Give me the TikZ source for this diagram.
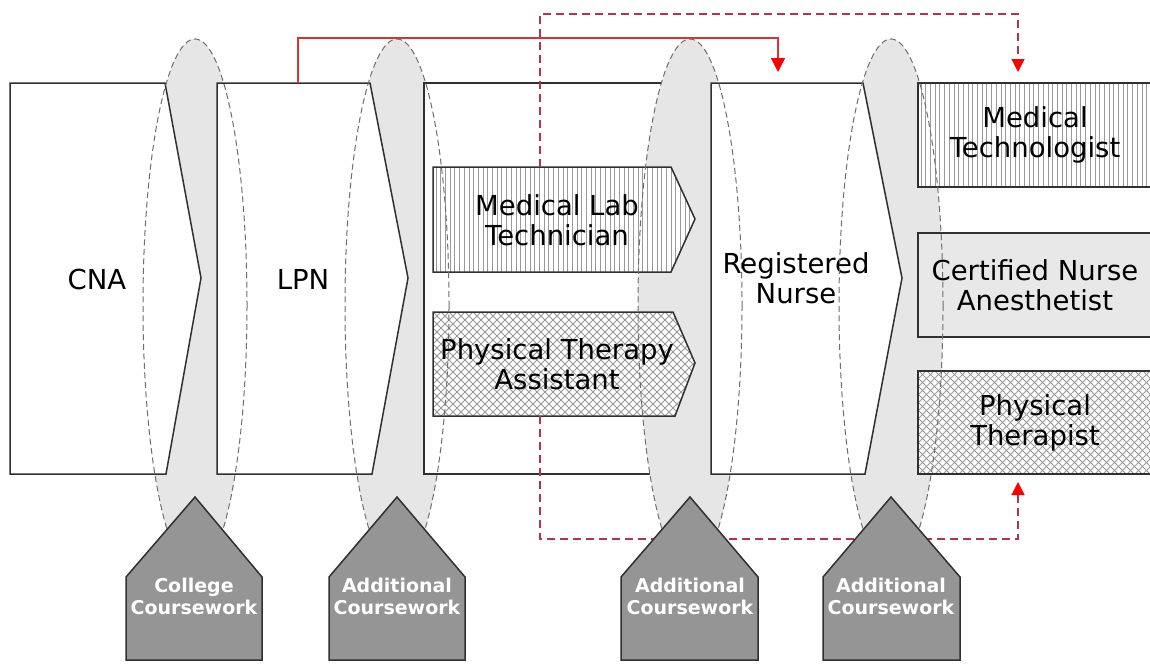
\documentclass[tikz,border=0pt]{standalone}
\usepackage{fontspec}
\setmainfont{DejaVu Sans}
\usetikzlibrary{arrows.meta}
\definecolor{ovalgray}{HTML}{E6E6E6}
\definecolor{anesgray}{HTML}{E8E8E8}
\definecolor{housegray}{HTML}{959595}
\definecolor{edgecol}{HTML}{303030}
\definecolor{hatchcol}{HTML}{9A9A9A}
\definecolor{ovaledgecol}{HTML}{6E6E6E}
\definecolor{redline}{HTML}{D83434}
\definecolor{reddash}{HTML}{B8324C}
\newcommand\myVhatch[4]{% xa ya xb yb
  \pgfmathsetmacro\vxa{#1}\pgfmathsetmacro\vxb{#1+4.7}%
  \foreach \vx in {\vxa,\vxb,...,#3} {\draw[hatchline] (\vx,#2) -- (\vx,#4);}}
\newcommand\myXhatch[4]{% xa ya xb yb
  \pgfmathsetmacro\hh{#4-#2}\pgfmathsetmacro\ka{#1-\hh}\pgfmathsetmacro\kb{#1-\hh+8}%
  \foreach \k in {\ka,\kb,...,#3} {\draw[hatchline] (\k,#2) -- ++(\hh,\hh);
     \draw[hatchline] (\k+\hh,#2) -- ++(-\hh,\hh);}}
\begin{document}
\begin{tikzpicture}[x=1pt,y=-1pt,
  stagebox/.style={draw=edgecol,line width=1.5pt,fill=white,line join=miter},
  outline/.style={draw=edgecol,line width=1.5pt,line join=miter},
  hatchline/.style={draw=hatchcol,line width=0.8pt},
  lbl/.style={font=\fontsize{27.5}{30}\selectfont,align=center,text=black,inner sep=0pt},
  houselbl/.style={font=\bfseries\fontsize{19}{22}\selectfont,align=center,text=white,inner sep=0pt},
  ovalfill/.style={fill=ovalgray,draw=none},
  ovaledge/.style={draw=ovaledgecol,dash pattern=on 6pt off 3.5pt,line width=1pt},
  housebox/.style={fill=housegray,draw=edgecol,line width=1.5pt,line join=miter},
  solidlink/.style={draw=redline,line width=1.4pt,-{Triangle[length=14pt,width=14pt,color=red]}},
  dashlink/.style={draw=reddash,line width=1.3pt,dash pattern=on 8pt off 5pt,-{Triangle[length=13pt,width=13pt,color=red]}}
]
\useasboundingbox (0,0) rectangle (1150,664);
\fill[white] (0,0) rectangle (1150,664);

% ovals behind first boxes
\path[ovalfill] (195,305) ellipse [x radius=52, y radius=266];
\path[ovalfill] (397,305) ellipse [x radius=52, y radius=266];

% first stage boxes
\path[stagebox] (10,83) -- (165,83) -- (201,278) -- (166,474) -- (10,474) -- cycle;
\path[stagebox] (217,83) -- (370,83) -- (408,278) -- (372,474) -- (217,474) -- cycle;
\path[stagebox] (424,83) rectangle (671,474);
\path[stagebox] (918,83) rectangle (1152,474);

% later ovals
\path[ovalfill] (690,305) ellipse [x radius=52, y radius=266];
\path[ovalfill] (891,305) ellipse [x radius=52, y radius=266];

% Medical Lab Technician arrow (vertical hatch)
\fill[white] (433,167) -- (671,167) -- (695,219) -- (671,272) -- (433,272) -- cycle;
\begin{scope}
  \clip (433,167) -- (671,167) -- (695,219) -- (671,272) -- (433,272) -- cycle;
  \myVhatch{436}{160}{700}{280}
\end{scope}
\path[outline] (433,167) -- (671,167) -- (695,219) -- (671,272) -- (433,272) -- cycle;

% Physical Therapy Assistant arrow (cross hatch)
\fill[white] (433,312) -- (673,312) -- (695,363) -- (675,416) -- (433,416) -- cycle;
\begin{scope}
  \clip (433,312) -- (673,312) -- (695,363) -- (675,416) -- (433,416) -- cycle;
  \myXhatch{433}{312}{700}{416}
\end{scope}
\path[outline] (433,312) -- (673,312) -- (695,363) -- (675,416) -- (433,416) -- cycle;

% Registered Nurse
\path[stagebox] (711,83) -- (863,83) -- (902,278) -- (865,474) -- (711,474) -- cycle;

% right column
\fill[white] (918,83) rectangle (1152,187);
\begin{scope}
  \clip (918,83) rectangle (1152,187);
  \myVhatch{921}{80}{1152}{190}
\end{scope}
\path[outline] (918,83) rectangle (1152,187);
\path[stagebox,fill=anesgray] (918,233) rectangle (1152,337);
\fill[white] (918,371) rectangle (1152,474);
\begin{scope}
  \clip (918,371) rectangle (1152,474);
  \myXhatch{918}{371}{1152}{474}
\end{scope}
\path[outline] (918,371) rectangle (1152,474);

% labels
\node[lbl] (cna) at (97,279) {CNA};
\node[lbl] (lpn) at (303,279) {LPN};
\node[lbl] (mlt) at (557,220) {Medical Lab\\Technician};
\node[lbl] (pta) at (557,364) {Physical Therapy\\Assistant};
\node[lbl] (rn) at (796,278) {Registered\\Nurse};
\node[lbl] (mtech) at (1035,135) {Medical\\Technologist};
\node[lbl] (crna) at (1035,285) {Certified Nurse\\Anesthetist};
\node[lbl] (pt) at (1035,423) {Physical\\Therapist};

% dashed oval outlines
\foreach \cx in {195,397,690,891}
  \path[ovaledge] (\cx,305) ellipse [x radius=52, y radius=266];

% connection points
\coordinate (lpnN) at (298,83);
\coordinate (rnT) at (778,72);
\coordinate (mltN) at (540,167);
\coordinate (mtechT) at (1018,72);
\coordinate (ptaS) at (540,416);
\coordinate (ptT) at (1018,482);

% connectors
\draw[solidlink] (lpnN) -- ++(0,-45) -| (rnT);
\draw[dashlink] (mltN) -- ++(0,-153) -| (mtechT);
\draw[dashlink] (ptaS) -- ++(0,123) -| (ptT);

% houses
\path[housebox] (126,660) -- (126,577) -- (195,497) -- (262,577) -- (262,660) -- cycle;
\path[housebox] (329,660) -- (329,577) -- (397,497) -- (465,577) -- (465,660) -- cycle;
\path[housebox] (621,660) -- (621,577) -- (690,497) -- (758,577) -- (758,660) -- cycle;
\path[housebox] (823,660) -- (823,577) -- (891,497) -- (960,577) -- (960,660) -- cycle;
\node[houselbl] (h1) at (194,596) {College\\Coursework};
\node[houselbl] (h2) at (397,596) {Additional\\Coursework};
\node[houselbl] (h3) at (690,596) {Additional\\Coursework};
\node[houselbl] (h4) at (891,596) {Additional\\Coursework};
\end{tikzpicture}
\end{document}
